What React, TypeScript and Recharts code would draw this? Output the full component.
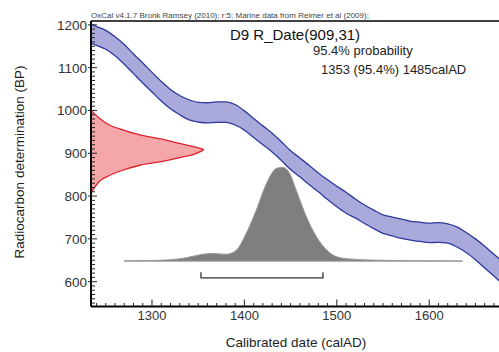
import { ComposedChart, Area, Line, XAxis, YAxis, ReferenceLine } from "recharts";

// calibration curve band (marine), upper / lower edge in BP
const CURVE_YEARS = [
  1230, 1240, 1250, 1260, 1270, 1280, 1290, 1300, 1310, 1320, 1330, 1340, 1350, 1360, 1370, 1380,
  1390, 1400, 1410, 1420, 1430, 1440, 1450, 1460, 1470, 1480, 1490, 1500, 1510, 1520, 1530, 1540,
  1550, 1560, 1570, 1580, 1590, 1600, 1610, 1620, 1630, 1640, 1650, 1660, 1670, 1680,
];
const CURVE_HIGH = [
  1206, 1196, 1187, 1172, 1154, 1132, 1111, 1089, 1068, 1049, 1035, 1025, 1019, 1018, 1020, 1020,
  1014, 999, 981, 964, 947, 927, 906, 889, 872, 854, 838, 823, 809, 793, 779, 767,
  756, 751, 746, 741, 739, 737, 738, 735, 728, 715, 700, 683, 664, 646,
];
const CURVE_LOW = [
  1161, 1152, 1143, 1128, 1108, 1086, 1064, 1043, 1022, 1004, 990, 978, 973, 971, 972, 972,
  966, 954, 937, 920, 903, 883, 862, 845, 827, 810, 792, 775, 760, 749, 736, 724,
  713, 707, 701, 697, 694, 691, 692, 690, 681, 668, 651, 632, 613, 594,
];

// R_Date(909,31) shown against the y axis
const RDATE_YEARS = [1234, 1243, 1254, 1265, 1287, 1308, 1330, 1346, 1356];
const RDATE_LOW = [808, 834, 848, 858, 872, 880, 890, 898, 908];
const RDATE_HIGH = [1000, 982, 966, 957, 943, 934, 923, 915, 909];

// calibrated distribution, drawn up from a baseline
const CAL_BASE = 648;
const CAL_YEARS = [
  1270, 1297, 1319, 1337, 1352, 1365, 1380, 1391, 1402, 1413, 1424, 1435, 1442, 1449, 1456,
  1467, 1478, 1489, 1500, 1514, 1547, 1590, 1636,
];
const CAL_TOP = [
  649, 649.5, 651, 656, 663, 666, 664, 673, 713, 768, 830, 865, 867, 853, 814,
  752, 705, 674, 658, 653, 650, 649, 648.5,
];

// 95.4% range bracket
const RANGE_YEARS = [1353, 1353, 1485, 1485];
const RANGE_BP = [622, 609, 609, 622];

const X_TICKS = Array.from({ length: 44 }, (_, i) => 1240 + i * 10);
const Y_TICKS = Array.from({ length: 66 }, (_, i) => 550 + i * 10);

const FONT = "'Liberation Sans', Arial, sans-serif";

const curveData = CURVE_YEARS.map((year, i) => ({ year, band: [CURVE_LOW[i], CURVE_HIGH[i]] }));
const rdateData = RDATE_YEARS.map((year, i) => ({ year, band: [RDATE_LOW[i], RDATE_HIGH[i]] }));
const calData = CAL_YEARS.map((year, i) => ({ year, band: [CAL_BASE, CAL_TOP[i]] }));
const rangeData = RANGE_YEARS.map((year, i) => ({ year, bp: RANGE_BP[i] }));

function YTick({ x, y, payload }: any) {
  const v = payload.value;
  const major = v % 100 === 0;
  return (
    <g>
      <line x1={major ? x - 3 : x} x2={x + (major ? 6 : 4)} y1={y} y2={y} stroke="#222" strokeWidth={1} />
      {major && (
        <text x={x - 4} y={y} dy={5} textAnchor="end" fontSize={13.5} fontFamily={FONT} fill="#333">
          {v}
        </text>
      )}
    </g>
  );
}

function XTick({ x, y, payload }: any) {
  const v = payload.value;
  const major = v % 100 === 0;
  return (
    <g>
      <line x1={x} x2={x} y1={y} y2={y - (major ? 7 : 3.5)} stroke="#222" strokeWidth={1} />
      {major && (
        <text x={x} y={y + 13.5} textAnchor="middle" fontSize={13} fontFamily={FONT} fill="#333">
          {v}
        </text>
      )}
    </g>
  );
}

export default function App() {
  return (
    <div style={{ position: "absolute", left: 0, top: 0, width: 499, height: 352, background: "#fff" }}>
      <ComposedChart width={499} height={352} margin={{ top: 21, right: 0, bottom: 0, left: 0 }}>
        <XAxis
          dataKey="year"
          type="number"
          domain={[1234, 1675.5]}
          allowDataOverflow
          ticks={X_TICKS}
          interval={0}
          height={45.5}
          tickSize={0}
          tickMargin={0}
          tick={<XTick />}
          axisLine={{ stroke: "#000", strokeWidth: 2 }}
        />
        <YAxis
          type="number"
          domain={[542, 1209]}
          allowDataOverflow
          ticks={Y_TICKS}
          interval={0}
          width={91}
          tickSize={0}
          tickMargin={0}
          tick={<YTick />}
          axisLine={{ stroke: "#000", strokeWidth: 2 }}
        />
        <ReferenceLine y={1209} stroke="#000" strokeWidth={1.5} />
        <Area
          data={calData}
          dataKey="band"
          type="monotone"
          fill="#7f7f7f"
          fillOpacity={1}
          stroke="#9a9a9a"
          strokeWidth={1}
          isAnimationActive={false}
        />
        <Area
          data={curveData}
          dataKey="band"
          type="monotone"
          fill="#a9a9dc"
          fillOpacity={1}
          stroke="#2d3a9c"
          strokeWidth={1.3}
          isAnimationActive={false}
        />
        <Area
          data={rdateData}
          dataKey="band"
          type="monotone"
          fill="#f5a6a8"
          fillOpacity={1}
          stroke="#e0202a"
          strokeWidth={1.3}
          isAnimationActive={false}
        />
        <Line
          data={rangeData}
          dataKey="bp"
          type="linear"
          stroke="#333"
          strokeWidth={1.3}
          dot={false}
          isAnimationActive={false}
        />
      </ComposedChart>
      <svg
        width={499}
        height={352}
        style={{ position: "absolute", left: 0, top: 0, pointerEvents: "none" }}
        fontFamily={FONT}
      >
        <text x={91} y={18} fontSize={8} fill="#444">
          OxCal v4.1.7 Bronk Ramsey (2010); r:5; Marine data from Reimer et al (2009);
        </text>
        <text x={230} y={40} fontSize={15} fill="#111">
          D9 R_Date(909,31)
        </text>
        <text x={313} y={55} fontSize={13} fill="#222">
          95.4% probability
        </text>
        <text x={321} y={74} fontSize={13} fill="#222">
          1353 (95.4%) 1485calAD
        </text>
        <text x={296} y={347} fontSize={13.5} textAnchor="middle" fill="#222">
          Calibrated date (calAD)
        </text>
        <text
          x={0}
          y={0}
          fontSize={13.5}
          textAnchor="middle"
          fill="#222"
          transform="translate(24 162) rotate(-90)"
        >
          Radiocarbon determination (BP)
        </text>
      </svg>
    </div>
  );
}
